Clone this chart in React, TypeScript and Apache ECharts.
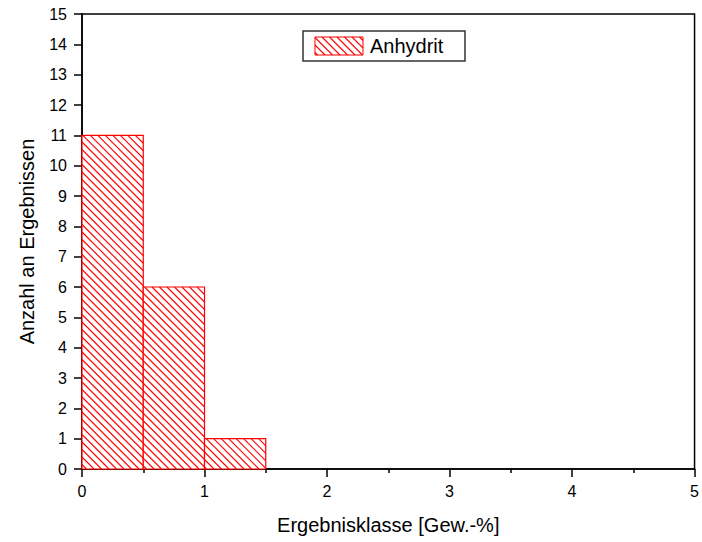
import React, { useEffect, useRef } from "react";
import * as echarts from "echarts";

const binStarts = [0, 0.5, 1];
const binEnds = [0.5, 1, 1.5];
const counts = [11, 6, 1];
const seriesName = "Anhydrit";
const xTitle = "Ergebnisklasse [Gew.-%]";
const yTitle = "Anzahl an Ergebnissen";

const RED = "#ff0000";
const HATCH = 7.5;

function hatchLines(x0: number, y0: number, x1: number, y1: number) {
  // lines of the form x - y = c (running down-right), clipped to rect
  const out: any[] = [];
  const cMin = x0 - y1;
  const cMax = x1 - y0;
  const start = Math.ceil(cMin / HATCH) * HATCH;
  for (let c = start; c <= cMax; c += HATCH) {
    const xa = Math.max(x0, y0 + c);
    const xb = Math.min(x1, y1 + c);
    if (xb - xa < 0.5) continue;
    out.push({
      type: "line",
      shape: { x1: xa, y1: xa - c, x2: xb, y2: xb - c },
      style: { stroke: RED, lineWidth: 1.1 },
      silent: true,
    });
  }
  return out;
}

export default function App() {
  const ref = useRef<HTMLDivElement>(null);
  useEffect(() => {
    if (!ref.current) return;
    const chart = echarts.init(ref.current, undefined, { renderer: "svg" });
    const data = binStarts.map((s, i) => [s, binEnds[i], counts[i]]);
    const font = "'Liberation Sans', Arial, sans-serif";

    const lx0 = 315, ly0 = 37, lx1 = 363, ly1 = 55;
    const legendChildren: any[] = [
      {
        type: "rect",
        shape: { x: 303, y: 31, width: 162, height: 30 },
        style: { fill: "#fff", stroke: "#333", lineWidth: 1.5 },
      },
      {
        type: "rect",
        shape: { x: lx0, y: ly0, width: lx1 - lx0, height: ly1 - ly0 },
        style: { fill: "#fff", stroke: RED, lineWidth: 1 },
      },
      ...hatchLines(lx0, ly0, lx1, ly1),
      {
        type: "text",
        x: 370,
        y: 46,
        style: {
          text: seriesName,
          fill: "#000",
          font: `20px ${font}`,
          textVerticalAlign: "middle",
        },
      },
    ];

    chart.setOption({
      animation: false,
      backgroundColor: "#fff",
      textStyle: { fontFamily: font },
      grid: {
        left: 82,
        right: 7,
        top: 14,
        bottom: 73,
        show: true,
        borderColor: "#000",
        borderWidth: 1.5,
        backgroundColor: "transparent",
      },
      xAxis: {
        type: "value",
        min: 0,
        max: 5,
        interval: 1,
        name: xTitle,
        nameLocation: "middle",
        nameGap: 46,
        nameTextStyle: { fontSize: 20, color: "#000", fontFamily: font },
        axisLine: { show: true, lineStyle: { color: "#000", width: 1.5 } },
        axisTick: { show: true, length: 8, lineStyle: { color: "#000", width: 1.5 } },
        minorTick: { show: true, splitNumber: 2, length: 4, lineStyle: { color: "#000", width: 1.5 } },
        axisLabel: { fontSize: 16, color: "#000", margin: 14, fontFamily: font },
        splitLine: { show: false },
      },
      yAxis: {
        type: "value",
        min: 0,
        max: 15,
        interval: 1,
        name: yTitle,
        nameLocation: "middle",
        nameGap: 45,
        nameRotate: 90,
        nameTextStyle: { fontSize: 20, color: "#000", fontFamily: font },
        axisLine: { show: true, lineStyle: { color: "#000", width: 1.5 } },
        axisTick: { show: true, length: 8, lineStyle: { color: "#000", width: 1.5 } },
        axisLabel: { fontSize: 16, color: "#000", margin: 15, fontFamily: font },
        splitLine: { show: false },
      },
      series: [
        {
          type: "custom",
          name: seriesName,
          data,
          encode: { x: [0, 1], y: 2 },
          renderItem: (params: any, api: any) => {
            const a = api.coord([api.value(0), api.value(2)]);
            const b = api.coord([api.value(1), 0]);
            const x0 = a[0], y0 = a[1], x1 = b[0], y1 = b[1];
            return {
              type: "group",
              children: [
                {
                  type: "rect",
                  shape: { x: x0, y: y0, width: x1 - x0, height: y1 - y0 },
                  style: { fill: "#fff" },
                },
                ...hatchLines(x0, y0, x1, y1),
                {
                  type: "rect",
                  shape: { x: x0, y: y0, width: x1 - x0, height: y1 - y0 },
                  style: { fill: "none", stroke: RED, lineWidth: 1.2 },
                },
              ],
            };
          },
        },
      ],
      graphic: [{ type: "group", children: legendChildren }],
    });
    return () => chart.dispose();
  }, []);
  return (
    <div
      ref={ref}
      style={{ position: "fixed", left: 0, top: 0, width: 702, height: 542 }}
    />
  );
}
